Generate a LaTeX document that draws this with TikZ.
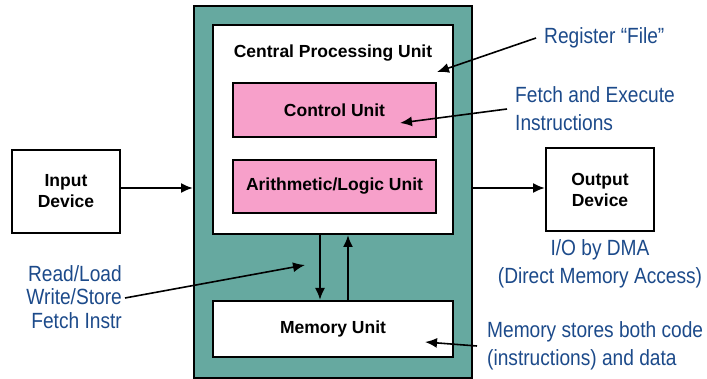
\documentclass[tikz,border=0pt]{standalone}
\usepackage{fontspec}
\setmainfont{Liberation Sans}
\newfontfamily\notefont[FakeStretch=0.87]{Liberation Sans}
\usetikzlibrary{positioning,arrows.meta,calc}

\definecolor{boardteal}{RGB}{102,169,160}
\definecolor{unitpink}{RGB}{247,160,202}
\definecolor{noteblue}{RGB}{28,74,138}

\begin{document}
\begin{tikzpicture}[
    x=1pt,y=-1pt,
    box/.style={rectangle,draw,line width=2pt,fill=white,font=\fontsize{17.5}{21}\selectfont\bfseries,align=center},
    unit/.style={box,fill=unitpink},
    note/.style={text=noteblue,font=\notefont\fontsize{22}{28}\selectfont,inner sep=0pt},
    arrow/.style={line width=2pt,-{Latex[length=12pt,width=10pt]}}
]

\useasboundingbox (0,0) rectangle (707,379);

% outer board
\node[box,fill=boardteal,minimum width=278,minimum height=372] (board) at (333,192) {};

% CPU with its two units
\node[box,minimum width=240,minimum height=209] (cpu) at (333,129.5) {};
\node[font=\fontsize{17.5}{21}\selectfont\bfseries] (cpulabel) at (333,53) {Central Processing Unit};
\node[unit,minimum width=203,minimum height=54] (control) at (334.5,110) {Control Unit};
\node[unit,minimum width=203,minimum height=53] (alu) at (334.5,186.5) {Arithmetic/Logic Unit};

% memory
\node[box,minimum width=240,minimum height=56] (memory) at (333,329) {Memory Unit};

% devices
\node[box,minimum width=108,minimum height=83] (input) at (66,191.5) {Input\\Device};
\node[box,minimum width=108,minimum height=83] (output) at (600,189.5) {Output\\Device};

\draw[arrow] ($(input.east)+(0,-3.5)$) -- ($(input.east -| board.west)+(0,-3.5)$);
\draw[arrow] ($(board.east)+(0,-4)$) -- ($(board.east -| output.west)+(0,-4)$);

% cpu <-> memory
\draw[arrow] (cpu.south -| 320,0) -- (memory.north -| 320,0);
\draw[arrow] (memory.north -| 348,0) -- (cpu.south -| 348,0);

% notes
\node[note,anchor=west] (regfile) at (544,38) {Register “File”};
\coordinate (regtip) at (437,72);
\draw[arrow,line width=1.6pt] ($(regfile.west)+(-8,0)$) -- (regtip);

\node[note,anchor=west,align=left] (fetchexec) at (515,109) {Fetch and Execute\\Instructions};
\coordinate (fetchtip) at (400,123);
\draw[arrow,line width=1.6pt] ($(fetchexec.west)+(-8,0)$) -- (fetchtip);

\node[note,anchor=east,align=right,font=\notefont\fontsize{22}{23.5}\selectfont] (readload) at (122,297) {Read/Load\\Write/Store\\Fetch Instr};
\coordinate (readtip) at (305,265);
\draw[arrow,line width=1.6pt] ($(readload.east)+(3,1)$) -- (readtip);

\node[note,align=center] (dma) at (600,264) {I/O by DMA\\(Direct Memory Access)};

\node[note,anchor=west,align=left] (memnote) at (487,346) {Memory stores both code\\(instructions) and data};
\coordinate (memtip) at (425,342);
\draw[arrow,line width=1.6pt] ($(memnote.west)+(-10,0)$) -- (memtip);

\end{tikzpicture}
\end{document}
